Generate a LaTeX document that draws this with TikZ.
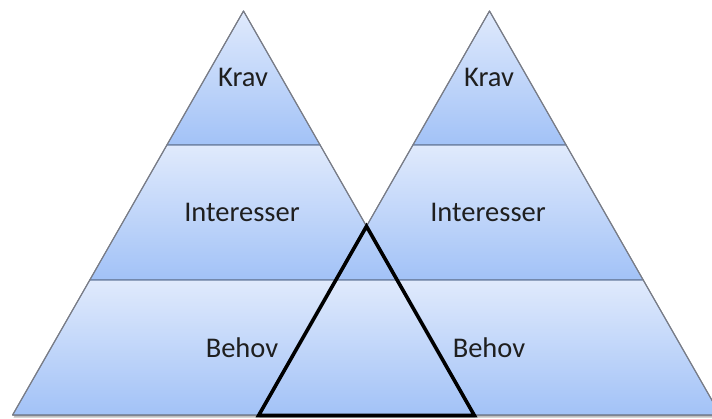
\documentclass[tikz,border=0pt]{standalone}
\usepackage{fontspec}
\setmainfont{Carlito}
\definecolor{bandtop}{RGB}{224,234,252}
\definecolor{bandbot}{RGB}{162,194,247}
\definecolor{bandline}{RGB}{105,125,160}
\definecolor{edgeline}{RGB}{125,125,130}
\tikzset{
  band/.style={top color=bandtop, bottom color=bandbot, draw=bandline, line width=1.1pt, line join=round},
  outline/.style={draw=edgeline, line width=1pt, line join=round},
  dropshadow/.style={fill=black, opacity=0.25},
  label/.style={font=\fontsize{28.5}{33}\selectfont, text=black!88, inner sep=0pt, anchor=center},
  overlapline/.style={draw=black, line width=3.6pt, line join=miter}
}
\begin{document}
\begin{tikzpicture}[x=1pt, y=-1pt]
\useasboundingbox (0,0) rectangle (712,419);
\clip (0,0) rectangle (712,419);

% drop shadows of both pyramids
\fill[dropshadow] (244.5,13.5) -- (475.4,417.5) -- (13.6,417.5) -- cycle;
\fill[dropshadow] (490.5,13.5) -- (721.4,417.5) -- (259.6,417.5) -- cycle;

% left pyramid: three bands
\path[band] (243.5,11) -- (320.1,145) -- (166.9,145) -- cycle;
\path[band] (166.9,145) -- (320.1,145) -- (397.2,280) -- (89.8,280) -- cycle;
\path[band] (89.8,280) -- (397.2,280) -- (474.4,415) -- (12.6,415) -- cycle;
\draw[outline] (243.5,11) -- (474.4,415) -- (12.6,415) -- cycle;

% right pyramid: three bands
\path[band] (489.5,11) -- (566.1,145) -- (412.9,145) -- cycle;
\path[band] (412.9,145) -- (566.1,145) -- (643.2,280) -- (335.8,280) -- cycle;
\path[band] (335.8,280) -- (643.2,280) -- (720.4,415) -- (258.6,415) -- cycle;
\draw[outline] (489.5,11) -- (720.4,415) -- (258.6,415) -- cycle;

% common ground of the two pyramids
\coordinate (ov-top) at (366.5,226.3);
\coordinate (ov-left) at (258.6,415.5);
\coordinate (ov-right) at (474.4,415.5);
\draw[overlapline] (ov-top) -- (ov-right) -- (ov-left) -- cycle;

% labels
\node[label] (krav-l) at (243,77) {Krav};
\node[label] (int-l) at (242,212) {Interesser};
\node[label] (beh-l) at (242,348) {Behov};
\node[label] (krav-r) at (489,77) {Krav};
\node[label] (int-r) at (488,212) {Interesser};
\node[label] (beh-r) at (489,348) {Behov};
\end{tikzpicture}
\end{document}
